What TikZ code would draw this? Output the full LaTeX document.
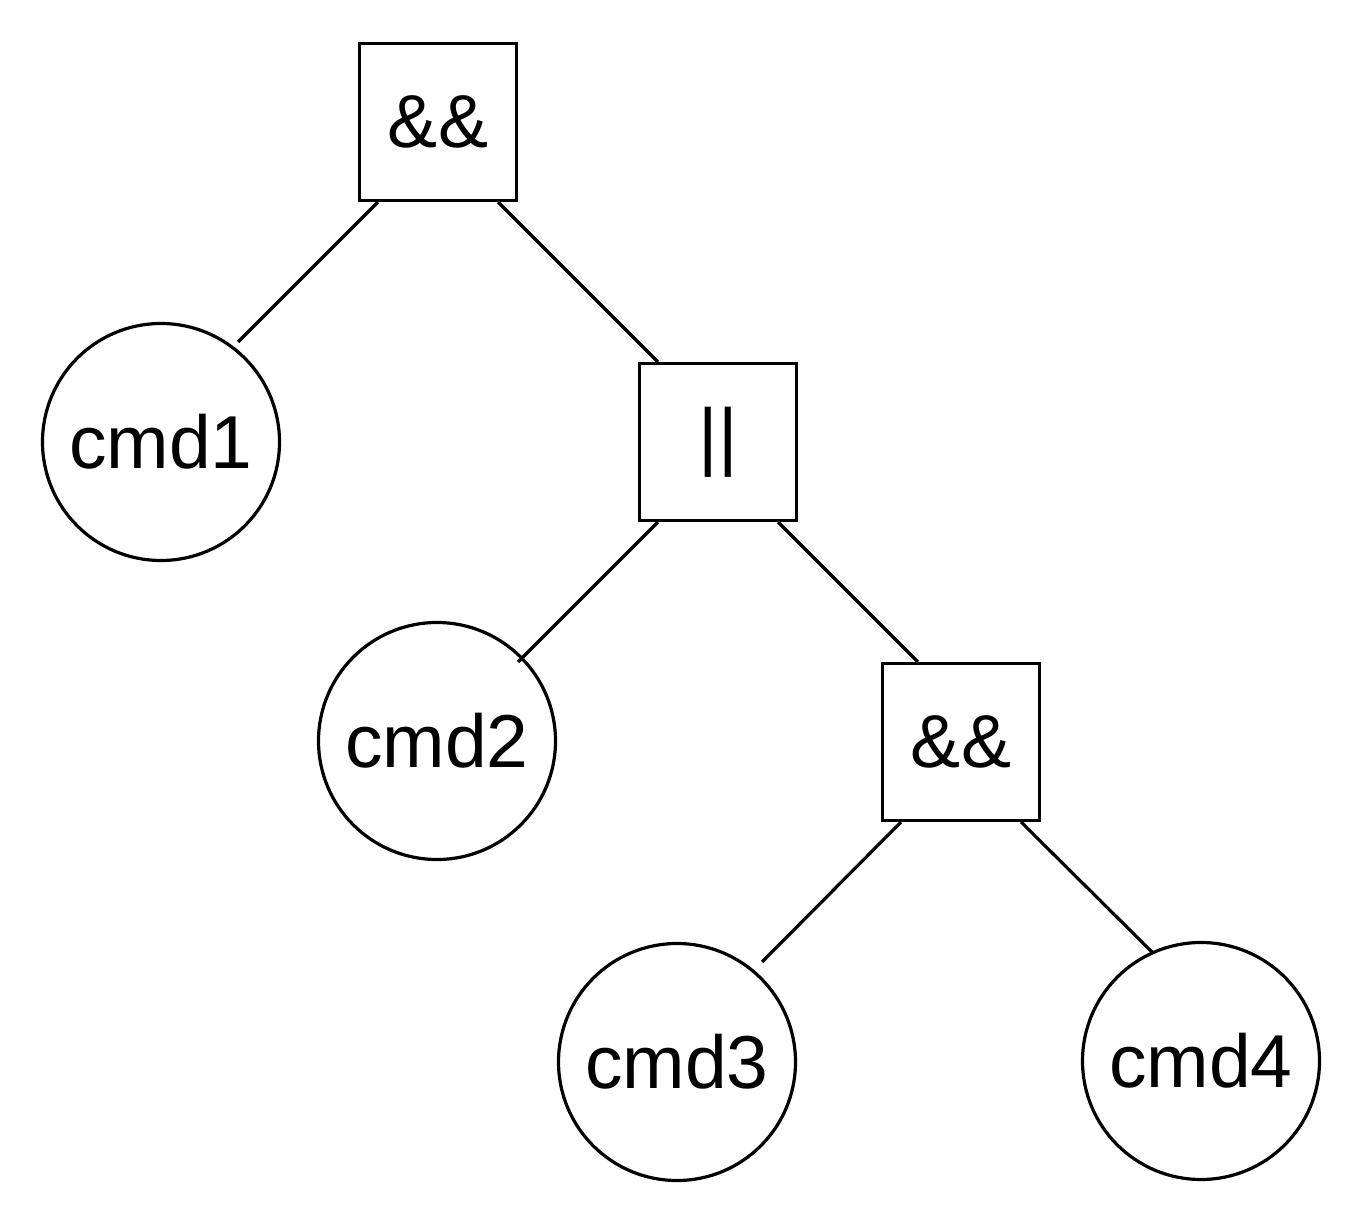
\documentclass[tikz,border=0pt]{standalone}
\usepackage{fontspec}
\setmainfont{Liberation Sans}
\usetikzlibrary{positioning, calc}

\begin{document}
\begin{tikzpicture}[
  x=0.5pt, y=-0.5pt,
  line width=1.6pt,
  font=\fontsize{37.5}{45}\selectfont,
  opbox/.style={draw, rectangle, minimum size=78.5pt, inner sep=0pt},
  cmdnode/.style={draw, circle, minimum size=118.5pt, inner sep=0pt}
]
  \useasboundingbox (0,0) rectangle (1364,1224);

  % Operadores
  \node[opbox] (and1) at (438,122) {\&\&};
  \node[opbox] (or) at ([shift={(280,320)}]and1) {||};
  \node[opbox] (and2) at ([shift={(243,300)}]or) {\&\&};

  % Comandos (hojas)
  \node[cmdnode] (cmd1) at ([shift={(-277,320)}]and1) {cmd1};
  \node[cmdnode] (cmd2) at ([shift={(-281,299)}]or) {cmd2};
  \node[cmdnode] (cmd3) at ([shift={(-284,320)}]and2) {cmd3};
  \node[cmdnode] (cmd4) at ([shift={(240,319)}]and2) {cmd4};

  % Aristas a 45 grados
  \draw ([xshift=10pt]and1.south west) -- ([shift={(77,-100)}]cmd1.center);
  \draw ([xshift=-10pt]and1.south east) -- ([xshift=10pt]or.north west);
  \draw ([xshift=10pt]or.south west) -- ([shift={(81,-79)}]cmd2.center);
  \draw ([xshift=-10pt]or.south east) -- ([xshift=18.5pt]and2.north west);
  \draw ([xshift=10pt]and2.south west) -- ([shift={(85,-100)}]cmd3.center);
  \draw ([xshift=-10pt]and2.south east) -- ([shift={(-49,-109)}]cmd4.center);

\end{tikzpicture}
\end{document}
